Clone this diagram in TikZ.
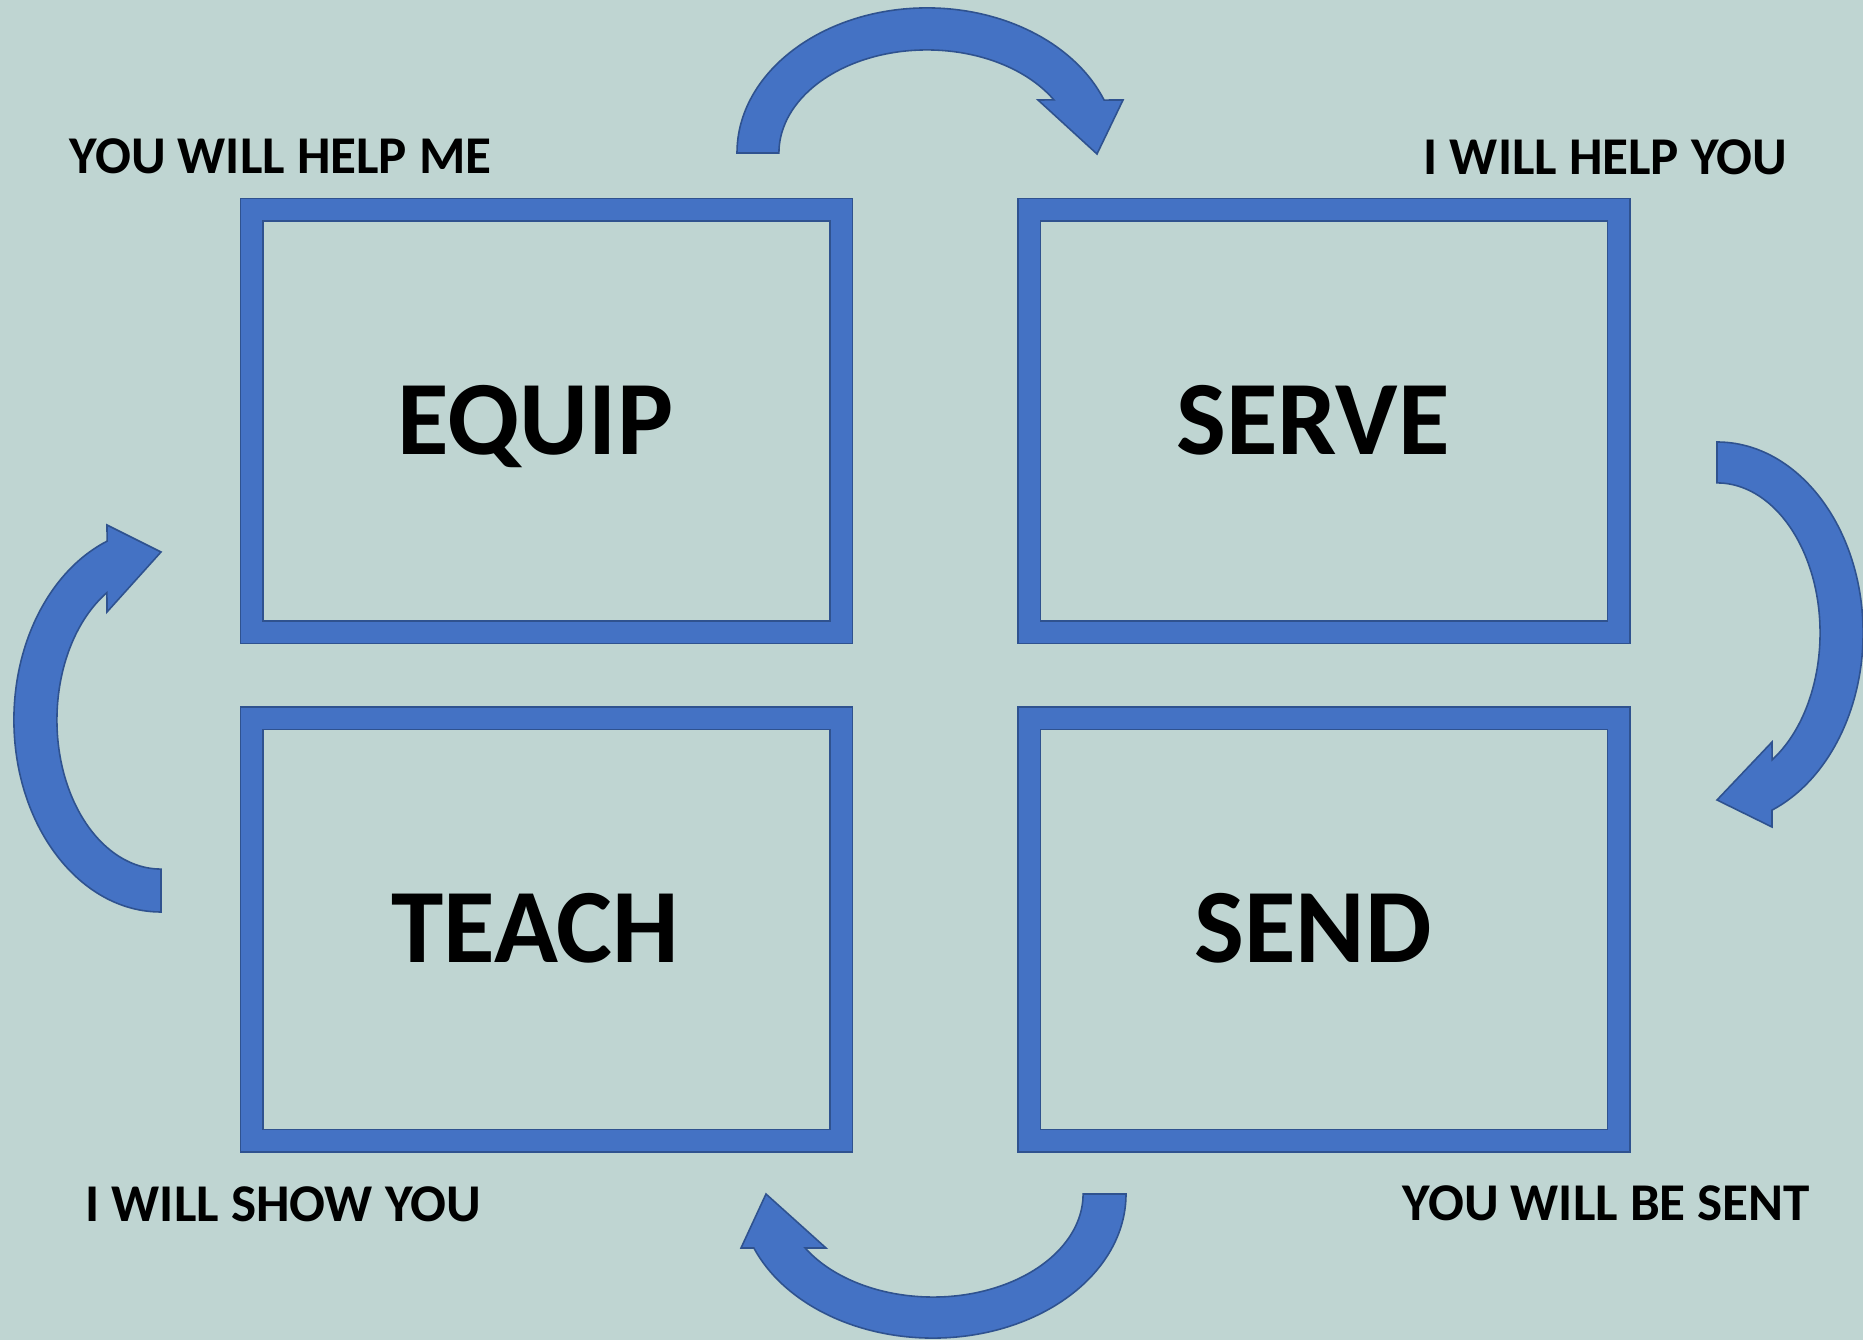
\documentclass[tikz,border=0pt]{standalone}
\usepackage{fontspec}
\setmainfont{Carlito}
\usetikzlibrary{positioning}

\definecolor{bgteal}{HTML}{BFD5D2}
\definecolor{boxblue}{HTML}{4472C4}
\definecolor{boxedge}{HTML}{2F528F}

\tikzset{
    stagebox/.style={draw=boxedge, line width=0.45pt, double=boxblue,
        double distance=0.21cm, minimum width=5.89cm, minimum height=4.22cm,
        inner sep=0pt},
    stageword/.style={anchor=base, inner sep=0pt, font=\fontsize{30}{36}\selectfont\bfseries},
    sidenote/.style={anchor=base west, inner sep=0pt, font=\fontsize{15.1}{18}\selectfont\bfseries},
    turnarrow/.style={fill=boxblue, draw=boxedge, line width=0.45pt, line join=miter}
}

\begin{document}
\begin{tikzpicture}[x=0.01cm, y=-0.01cm]
            \useasboundingbox (0, 0) rectangle (1863, 1340);
            \fill[bgteal] (0, 0) rectangle (1863, 1340);
            % the four boxes
            \node[stagebox] (equip) at (546.5, 421) {};
            \node[stagebox, right=1.865cm of equip] (serve) {};
            \node[stagebox, below=0.846cm of equip] (teach) {};
            \node[stagebox, right=1.865cm of teach] (send) {};
            \node[stageword] (equipword) at ([xshift=-0.11cm, yshift=-0.33cm]equip.center) {EQUIP};
            \node[stageword] (serveword) at ([xshift=-0.11cm, yshift=-0.33cm]serve.center) {SERVE};
            \node[stageword] (teachword) at ([xshift=-0.11cm, yshift=-0.33cm]teach.center) {TEACH};
            \node[stageword] (sendword) at ([xshift=-0.11cm, yshift=-0.33cm]send.center) {SEND};
            % corner notes
            \node[sidenote] (helpme) at (69, 174) {YOU WILL HELP ME};
            \node[sidenote] (helpyou) at (1423, 175) {I WILL HELP YOU};
            \node[sidenote] (showyou) at (85, 1221) {I WILL SHOW YOU};
            \node[sidenote] (besent) at (1402, 1220) {YOU WILL BE SENT};
            % curved arrows, clockwise
            \filldraw[turnarrow] (737, 153)
                arc[start angle=180, end angle=21.4, x radius=1.9cm, y radius=1.45cm]
                -- (1123, 100) -- (1097, 154) -- (1038, 100)
                -- ([shift={(31:1.48cm and 1.03cm)}]927, 153)
                arc[start angle=31, end angle=180, x radius=1.48cm, y radius=1.03cm] -- cycle;
            \filldraw[turnarrow] (1717, 442)
                arc[start angle=90, end angle=-67.9, x radius=1.46cm, y radius=1.91cm]
                -- (1772, 827) -- (1717, 800) -- (1772, 742)
                -- ([shift={(-57.7:1.03cm and 1.5cm)}]1717, 633)
                arc[start angle=-57.7, end angle=90, x radius=1.03cm, y radius=1.5cm] -- cycle;
            \filldraw[turnarrow] (1126, 1194)
                arc[start angle=0, end angle=-158, x radius=1.93cm, y radius=1.44cm]
                -- (741, 1248) -- (766, 1194) -- (826, 1248)
                -- ([shift={(-148.4:1.5cm and 1.03cm)}]933, 1194)
                arc[start angle=-148.4, end angle=0, x radius=1.5cm, y radius=1.03cm] -- cycle;
            \filldraw[turnarrow] (161, 912)
                arc[start angle=270, end angle=111.5, x radius=1.47cm, y radius=1.92cm]
                -- (107, 525) -- (161, 552) -- (107, 612)
                -- ([shift={(121.3:1.04cm and 1.49cm)}]161, 720)
                arc[start angle=121.3, end angle=270, x radius=1.04cm, y radius=1.49cm] -- cycle;
        \end{tikzpicture}
\end{document}
